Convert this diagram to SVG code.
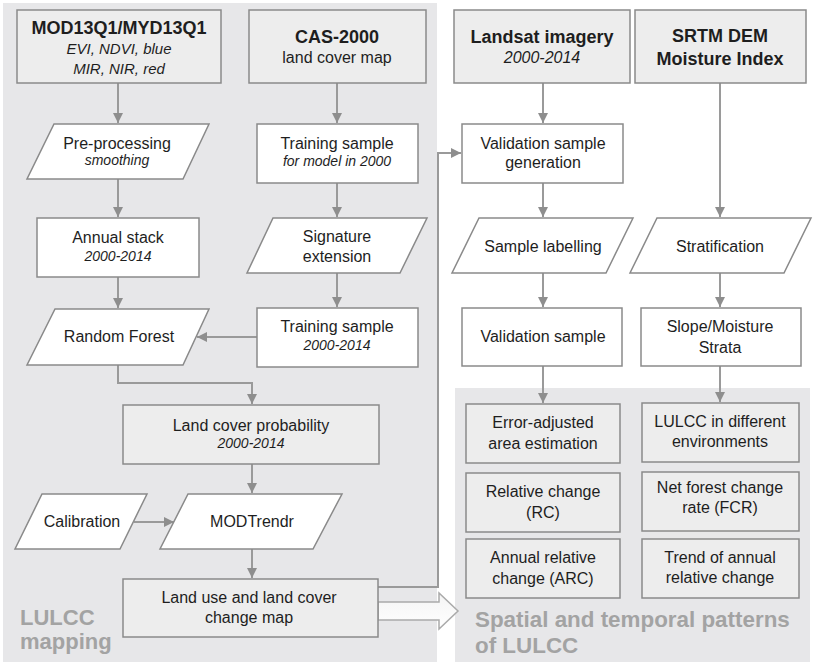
<svg xmlns="http://www.w3.org/2000/svg" width="813" height="667" viewBox="0 0 813 667">
<defs>
<marker id="ah" markerUnits="userSpaceOnUse" markerWidth="10" markerHeight="10" refX="10" refY="5" orient="auto">
<path d="M0,0 L10,5 L0,10 z" fill="#8e8e8e"/>
</marker>
<linearGradient id="hg" x1="0" y1="0" x2="0" y2="1">
<stop offset="0" stop-color="#f4f4f4"/>
<stop offset="1" stop-color="#ffffff"/>
</linearGradient>
</defs>
<style>
.panel{fill:#e7e7e9}
.box{fill:#ffffff;stroke:#8a8a8a;stroke-width:1.5}
.gbox{fill:#ededed;stroke:#8a8a8a;stroke-width:1.5}
.t{font-family:"Liberation Sans",Arial,sans-serif;font-size:16px;fill:#1e1e1e;text-anchor:middle}
.b{font-weight:bold;font-size:18px}
.i{font-style:italic;font-size:14px}
.i15{font-style:italic;font-size:15px}
.i16{font-style:italic;font-size:16px}
.conn{fill:none;stroke:#9a9a9a;stroke-width:2}
.lbl{font-family:"Liberation Sans",Arial,sans-serif;font-weight:bold;font-size:22px;fill:#a3a3a3}
.lbl2{font-size:22.4px}
</style>
<rect width="813" height="667" fill="#ffffff"/>
<rect class="panel" x="3" y="3" width="434" height="659"/>
<rect class="panel" x="455" y="388" width="355" height="274"/>
<text class="lbl" x="20" y="625">LULCC</text>
<text class="lbl" x="20" y="649">mapping</text>
<text class="lbl lbl2" x="475" y="627">Spatial and temporal patterns</text>
<text class="lbl lbl2" x="475" y="653">of LULCC</text>

<g id="connectors">
<path class="conn" d="M118,83 V123" marker-end="url(#ah)"/>
<path class="conn" d="M118,179 V217" marker-end="url(#ah)"/>
<path class="conn" d="M118,277 V308" marker-end="url(#ah)"/>
<path class="conn" d="M337,83 V123" marker-end="url(#ah)"/>
<path class="conn" d="M337,183 V217" marker-end="url(#ah)"/>
<path class="conn" d="M337,273 V307" marker-end="url(#ah)"/>
<path class="conn" d="M257,337 H197" marker-end="url(#ah)"/>
<path class="conn" d="M118,365 V383 H252 V404" marker-end="url(#ah)"/>
<path class="conn" d="M252,464 V493" marker-end="url(#ah)"/>
<path class="conn" d="M252,549 V578" marker-end="url(#ah)"/>
<path class="conn" d="M134,522 H174" marker-end="url(#ah)"/>
<path class="conn" d="M378,587 H438 V153 H461" marker-end="url(#ah)"/>
<path class="conn" d="M543,83 V123" marker-end="url(#ah)"/>
<path class="conn" d="M543,183 V217" marker-end="url(#ah)"/>
<path class="conn" d="M543,273 V307" marker-end="url(#ah)"/>
<path class="conn" d="M543,366 V403" marker-end="url(#ah)"/>
<path class="conn" d="M720,83 V217" marker-end="url(#ah)"/>
<path class="conn" d="M720,273 V307" marker-end="url(#ah)"/>
<path class="conn" d="M720,366 V402" marker-end="url(#ah)"/>
<polygon points="378,602 439,602 439,593 458,611 439,629 439,620 378,620" fill="url(#hg)" stroke="#aaaaaa" stroke-width="1.5"/>
</g>

<g id="mod13q1">
<rect class="gbox" x="17" y="10" width="204" height="73"/>
<text class="t b" x="119" y="34">MOD13Q1/MYD13Q1</text>
<text class="t i15" x="119" y="54">EVI, NDVI, blue</text>
<text class="t i15" x="119" y="74">MIR, NIR, red</text>
</g>
<g id="cas2000">
<rect class="gbox" x="249" y="10" width="177" height="73"/>
<text class="t b" x="337" y="43">CAS-2000</text>
<text class="t" x="337" y="63">land cover map</text>
</g>
<g id="landsat">
<rect class="gbox" x="454" y="10" width="176" height="73"/>
<text class="t b" x="542" y="43">Landsat imagery</text>
<text class="t i16" x="542" y="63">2000-2014</text>
</g>
<g id="srtm">
<rect class="gbox" x="635" y="10" width="171" height="73"/>
<text class="t b" x="720" y="42">SRTM DEM</text>
<text class="t b" x="720" y="65">Moisture Index</text>
</g>
<g id="preprocessing">
<polygon class="box" points="54,124 209,124 183,179 27,179"/>
<text class="t" x="117" y="149">Pre-processing</text>
<text class="t i" x="117" y="165">smoothing</text>
</g>
<g id="training2000">
<rect class="box" x="257" y="124" width="161" height="59"/>
<text class="t" x="337" y="149">Training sample</text>
<text class="t i" x="337" y="166">for model in 2000</text>
</g>
<g id="valgen">
<rect class="box" x="462" y="124" width="161" height="59"/>
<text class="t" x="543" y="149">Validation sample</text>
<text class="t" x="543" y="168">generation</text>
</g>
<g id="annualstack">
<rect class="box" x="37" y="218" width="162" height="59"/>
<text class="t" x="118" y="243">Annual stack</text>
<text class="t i" x="118" y="261">2000-2014</text>
</g>
<g id="signature">
<polygon class="box" points="273,218 427,218 400,273 247,273"/>
<text class="t" x="337" y="242">Signature</text>
<text class="t" x="337" y="262">extension</text>
</g>
<g id="samplelabelling">
<polygon class="box" points="479,218 633,218 606,273 452,273"/>
<text class="t" x="543" y="252">Sample labelling</text>
</g>
<g id="stratification">
<polygon class="box" points="657,218 811,218 784,273 630,273"/>
<text class="t" x="720" y="252">Stratification</text>
</g>
<g id="randomforest">
<polygon class="box" points="55,309 209,309 183,365 27,365"/>
<text class="t" x="119" y="342">Random Forest</text>
</g>
<g id="training20002014">
<rect class="box" x="257" y="308" width="161" height="59"/>
<text class="t" x="337" y="332">Training sample</text>
<text class="t i" x="337" y="350">2000-2014</text>
</g>
<g id="valsample">
<rect class="box" x="462" y="308" width="160" height="58"/>
<text class="t" x="543" y="342">Validation sample</text>
</g>
<g id="slopestrata">
<rect class="box" x="641" y="308" width="160" height="58"/>
<text class="t" x="720" y="332">Slope/Moisture</text>
<text class="t" x="720" y="353">Strata</text>
</g>
<g id="lcprob">
<rect class="gbox" x="123" y="405" width="256" height="59"/>
<text class="t" x="251" y="431">Land cover probability</text>
<text class="t i" x="251" y="448">2000-2014</text>
</g>
<g id="calibration">
<polygon class="box" points="42,494 147,494 120,549 15,549"/>
<text class="t" x="82" y="527">Calibration</text>
</g>
<g id="modtrendr">
<polygon class="box" points="188,494 342,494 313,549 160,549"/>
<text class="t" x="252" y="527">MODTrendr</text>
</g>
<g id="lulccmap">
<rect class="gbox" x="123" y="579" width="255" height="58"/>
<text class="t" x="249" y="603">Land use and land cover</text>
<text class="t" x="249" y="623">change map</text>
</g>
<g id="erroradj">
<rect class="gbox" x="466" y="404" width="154" height="59"/>
<text class="t" x="543" y="428">Error-adjusted</text>
<text class="t" x="543" y="449">area estimation</text>
</g>
<g id="lulccenv">
<rect class="gbox" x="642" y="403" width="157" height="59"/>
<text class="t" x="720" y="427">LULCC in different</text>
<text class="t" x="720" y="447">environments</text>
</g>
<g id="rc">
<rect class="gbox" x="466" y="473" width="154" height="59"/>
<text class="t" x="543" y="497">Relative change</text>
<text class="t" x="543" y="518">(RC)</text>
</g>
<g id="fcr">
<rect class="gbox" x="642" y="472" width="157" height="59"/>
<text class="t" x="720" y="493">Net forest change</text>
<text class="t" x="720" y="513">rate (FCR)</text>
</g>
<g id="arc">
<rect class="gbox" x="466" y="539" width="154" height="59"/>
<text class="t" x="543" y="563">Annual relative</text>
<text class="t" x="543" y="584">change (ARC)</text>
</g>
<g id="trend">
<rect class="gbox" x="642" y="539" width="157" height="59"/>
<text class="t" x="720" y="563">Trend of annual</text>
<text class="t" x="720" y="583">relative change</text>
</g>
</svg>
